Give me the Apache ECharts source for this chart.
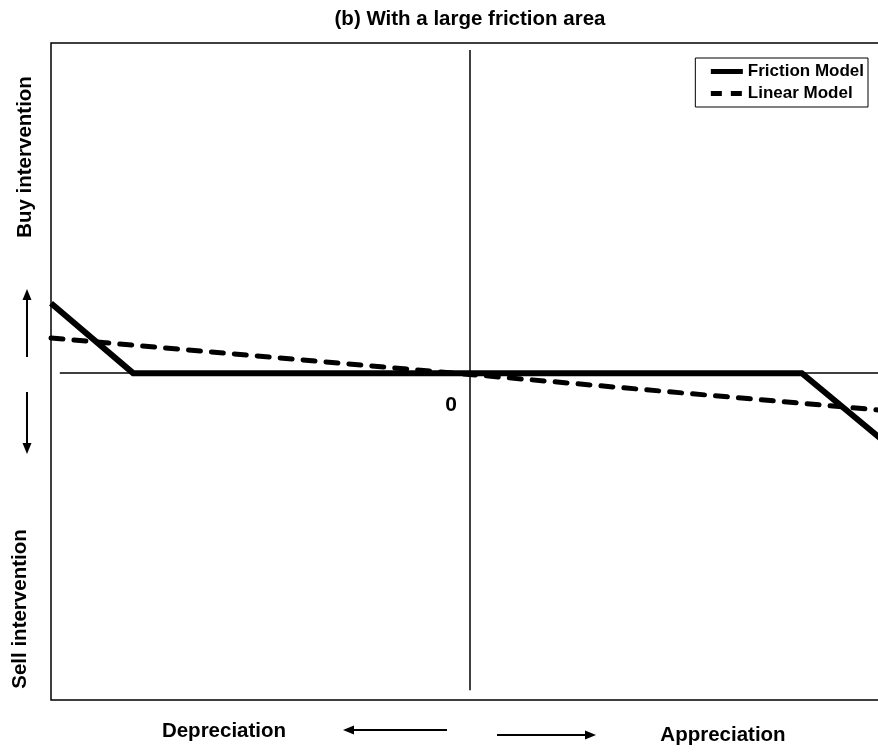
<!DOCTYPE html>
<html>
<head>
<meta charset="utf-8">
<script src="https://cdn.jsdelivr.net/npm/echarts@6/dist/echarts.min.js"></script>
<style>
  html, body { margin: 0; padding: 0; background: #ffffff; }
  #chart { width: 878px; height: 752px; }
</style>
</head>
<body>
<div id="chart"></div>
<script>
// Exchange-rate deviation (x) against intervention (y), both on a unit scale
const seriesNames = ['Friction Model', 'Linear Model'];
const frictionX = [-1, -0.804, 0.792, 1];
const frictionY = [0.213, 0, 0, -0.22];
const linearX = [-1, 1];
const linearY = [0.107, -0.115];
const titleText = '(b) With a large friction area';
const originLabel = '0';
const buyLabel = 'Buy intervention';
const sellLabel = 'Sell intervention';
const depLabel = 'Depreciation';
const appLabel = 'Appreciation';

const FONT = '"Liberation Sans", Arial, Helvetica, sans-serif';

function pairs(xs, ys) {
  return xs.map((x, i) => [x, ys[i]]);
}

const chart = echarts.init(document.getElementById('chart'), null, { renderer: 'canvas' });

// small arrow: shaft line plus triangular head
function arrow(x1, y1, x2, y2) {
  const ang = Math.atan2(y2 - y1, x2 - x1);
  const L = 11, W = 4.5;
  const bx = x2 - L * Math.cos(ang), by = y2 - L * Math.sin(ang);
  const px = -Math.sin(ang) * W, py = Math.cos(ang) * W;
  return [
    { type: 'line', shape: { x1: x1, y1: y1, x2: bx, y2: by }, style: { stroke: '#000', lineWidth: 2 } },
    { type: 'polygon', shape: { points: [[x2, y2], [bx + px, by + py], [bx - px, by - py]] }, style: { fill: '#000' } }
  ];
}

const labelStyle = { fill: '#000', fontFamily: FONT, fontWeight: 'bold', fontSize: 20.5, align: 'center', verticalAlign: 'middle' };

const option = {
  backgroundColor: '#ffffff',
  animation: false,
  title: {
    text: titleText,
    left: 470,
    top: 9,
    padding: 0,
    textAlign: 'center',
    textStyle: { fontFamily: FONT, fontWeight: 'bold', fontSize: 20.5, color: '#000' }
  },
  legend: {
    data: [
      {
        name: seriesNames[0],
        itemStyle: { opacity: 0 },
        lineStyle: { color: '#000', width: 5, type: 'solid', cap: 'butt' }
      },
      {
        name: seriesNames[1],
        itemStyle: { opacity: 0 },
        lineStyle: { color: '#000', width: 5, type: [11, 9], cap: 'butt' }
      }
    ],
    orient: 'vertical',
    right: 10,
    top: 58,
    itemWidth: 32,
    itemHeight: 12,
    itemGap: 5,
    padding: [5, 4, 5, 13],
    borderColor: '#000',
    borderWidth: 1,
    borderRadius: 0,
    backgroundColor: '#fff',
    textStyle: { fontFamily: FONT, fontWeight: 'bold', fontSize: 17, color: '#000' }
  },
  grid: {
    left: 51,
    top: 43,
    width: 838,
    bottom: 52,
    outerBoundsMode: 'none',
    show: true,
    borderColor: '#000',
    borderWidth: 1.5,
    backgroundColor: 'transparent'
  },
  xAxis: {
    type: 'value', min: -1, max: 1,
    axisLine: { show: false }, axisTick: { show: false },
    axisLabel: { show: false }, splitLine: { show: false }
  },
  yAxis: {
    type: 'value', min: -0.995, max: 1.005,
    axisLine: { show: false }, axisTick: { show: false },
    axisLabel: { show: false }, splitLine: { show: false }
  },
  series: [
    {
      name: seriesNames[0],
      type: 'line',
      data: pairs(frictionX, frictionY),
      showSymbol: false,
      symbol: 'none',
      z: 3,
      lineStyle: { color: '#000', width: 6, cap: 'butt', join: 'miter' },
      itemStyle: { color: '#000' },
      markLine: {
        silent: true,
        symbol: 'none',
        label: { show: false },
        lineStyle: { color: '#000', width: 1.5, type: 'solid' },
        data: [
          [{ coord: [-0.979, 0] }, { coord: [1, 0] }],
          [{ coord: [0, 0.984] }, { coord: [0, -0.965] }]
        ]
      },
      markPoint: {
        silent: true,
        symbol: 'circle',
        symbolSize: 0,
        data: [{ coord: [0, 0] }],
        label: {
          show: true,
          formatter: originLabel,
          offset: [-19, 32],
          color: '#000',
          fontFamily: FONT,
          fontWeight: 'bold',
          fontSize: 21
        }
      }
    },
    {
      name: seriesNames[1],
      type: 'line',
      data: pairs(linearX, linearY),
      showSymbol: false,
      symbol: 'none',
      z: 4,
      lineStyle: { color: '#000', width: 5, type: [12, 11], cap: 'round' },
      itemStyle: { color: '#000' }
    }
  ],
  graphic: [
    { type: 'text', x: 25, y: 157, rotation: Math.PI / 2, style: Object.assign({ text: buyLabel }, labelStyle) },
    { type: 'text', x: 20, y: 609, rotation: Math.PI / 2, style: Object.assign({ text: sellLabel }, labelStyle) },
    { type: 'text', x: 224, y: 731, style: Object.assign({ text: depLabel }, labelStyle) },
    { type: 'text', x: 723, y: 735, style: Object.assign({ text: appLabel }, labelStyle) }
  ]
    .concat(arrow(27, 357, 27, 289))
    .concat(arrow(27, 392, 27, 454))
    .concat(arrow(447, 730, 343, 730))
    .concat(arrow(497, 735, 596, 735))
};

chart.setOption(option);
</script>
</body>
</html>
